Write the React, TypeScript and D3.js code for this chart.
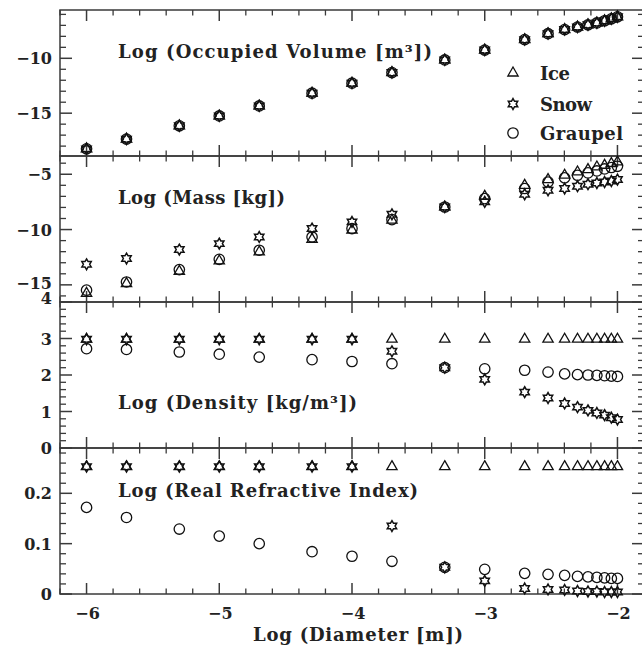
import React from 'react';
import * as d3 from 'd3';

// log10 of particle diameter [m]
const logDiameter = [-6, -5.699, -5.301, -5, -4.699, -4.301, -4, -3.699, -3.301, -3, -2.699, -2.523, -2.398, -2.301, -2.222, -2.155, -2.097, -2.046, -2];

const volumeIce = [-18.25, -17.36, -16.15, -15.25, -14.34, -13.18, -12.27, -11.3, -10.15, -9.25, -8.3, -7.76, -7.38, -7.15, -6.95, -6.78, -6.58, -6.4, -6.22];
const volumeSnow = [-18.25, -17.36, -16.15, -15.25, -14.34, -13.18, -12.27, -11.3, -10.15, -9.25, -8.3, -7.76, -7.38, -7.15, -6.95, -6.78, -6.58, -6.4, -6.22];
const volumeGraupel = [-18.25, -17.36, -16.15, -15.25, -14.34, -13.18, -12.27, -11.3, -10.15, -9.25, -8.3, -7.76, -7.38, -7.15, -6.95, -6.78, -6.58, -6.4, -6.22];

const massIce = [-15.76, -14.88, -13.77, -12.84, -12.02, -10.88, -10.06, -9.15, -7.96, -6.99, -6.0, -5.48, -5.09, -4.79, -4.58, -4.34, -4.19, -4.03, -3.89];
const massSnow = [-13.14, -12.62, -11.81, -11.27, -10.67, -9.91, -9.31, -8.62, -7.96, -7.5, -6.81, -6.45, -6.29, -6.08, -5.9, -5.79, -5.7, -5.61, -5.48];
const massGraupel = [-15.48, -14.74, -13.62, -12.69, -11.87, -10.67, -9.91, -9.1, -7.96, -7.2, -6.29, -5.7, -5.33, -5.09, -4.88, -4.7, -4.52, -4.39, -4.28];

const densityIce = [2.98, 2.98, 2.98, 2.98, 2.98, 2.98, 2.98, 2.98, 2.98, 2.98, 2.98, 2.98, 2.98, 2.98, 2.98, 2.98, 2.98, 2.98, 2.98];
const densitySnow = [2.98, 2.98, 2.98, 2.98, 2.98, 2.98, 2.98, 2.65, 2.2, 1.88, 1.53, 1.37, 1.22, 1.12, 1.03, 0.96, 0.9, 0.83, 0.78];
const densityGraupel = [2.72, 2.7, 2.63, 2.57, 2.49, 2.42, 2.37, 2.31, 2.2, 2.17, 2.13, 2.08, 2.03, 2.01, 2.0, 1.99, 1.98, 1.97, 1.96];

const refractiveIce = [0.253, 0.253, 0.253, 0.253, 0.253, 0.253, 0.253, 0.253, 0.253, 0.253, 0.253, 0.253, 0.253, 0.253, 0.253, 0.253, 0.253, 0.253, 0.253];
const refractiveSnow = [0.253, 0.253, 0.253, 0.253, 0.253, 0.253, 0.253, 0.135, 0.053, 0.026, 0.011, 0.009, 0.008, 0.006, 0.005, 0.005, 0.004, 0.004, 0.004];
const refractiveGraupel = [0.172, 0.152, 0.129, 0.115, 0.1, 0.084, 0.075, 0.065, 0.053, 0.049, 0.041, 0.039, 0.037, 0.035, 0.034, 0.033, 0.032, 0.031, 0.031];

const xMajorTicks = [-6, -5, -4, -3, -2];
const legendLabels = ['Ice', 'Snow', 'Graupel'];

const panelTitles = ['Log (Occupied Volume [m\u00B3])', 'Log (Mass [kg])', 'Log (Density [kg/m\u00B3])', 'Log (Real Refractive Index)'];
const panelYMajor = [[-15, -10], [-15, -10, -5], [0, 1, 2, 3, 4], [0, 0.1, 0.2]];
const panelYLabels = [['\u221215', '\u221210'], ['\u221215', '\u221210', '\u22125'], ['0', '1', '2', '3', '4'], ['0', '0.1', '0.2']];

const W = 642;
const H = 649;
const L = 60;
const R = 644;
const PT = [10, 156, 302, 448];
const PH = 146;
const FONT = "'DejaVu Serif', serif";
const AX = '#3a3a3a';

const hexagram = (cx: number, cy: number, ro: number) => {
  const ri = ro / Math.sqrt(3);
  const pts: string[] = [];
  for (let k = 0; k < 12; k++) {
    const a = (-90 + k * 30) * Math.PI / 180;
    const r = k % 2 === 0 ? ro : ri;
    pts.push(`${(cx + r * Math.cos(a)).toFixed(2)},${(cy + r * Math.sin(a)).toFixed(2)}`);
  }
  return 'M' + pts.join('L') + 'Z';
};
const triPath = d3.symbol().type(d3.symbolTriangle).size(46)();

const Marker = ({ kind, x, y }: { kind: number; x: number; y: number }) => {
  if (kind === 0) return <path d={triPath as string} transform={`translate(${x},${y})`} fill="none" stroke="#111" strokeWidth={1.3} />;
  if (kind === 1) return <path d={hexagram(x, y, 5.4)} fill="none" stroke="#111" strokeWidth={1.5} />;
  return <circle cx={x} cy={y} r={5.2} fill="none" stroke="#111" strokeWidth={1.3} />;
};

export default function App() {
  const x = d3.scaleLinear().domain([-6.2, -1.8]).range([L, R]);
  const panels = [
    { title: panelTitles[0], titleW: 314, titleY: 58, domain: [-18.9, -5.6], minor: 1, series: [volumeIce, volumeSnow, volumeGraupel] },
    { title: panelTitles[1], titleW: 167, titleY: 204, domain: [-16.55, -3.35], minor: 1, series: [massIce, massSnow, massGraupel] },
    { title: panelTitles[2], titleW: 239, titleY: 409, domain: [0, 4], minor: 0.2, series: [densityIce, densitySnow, densityGraupel] },
    { title: panelTitles[3], titleW: 300, titleY: 496.5, domain: [0, 0.29], minor: 0.02, series: [refractiveIce, refractiveSnow, refractiveGraupel] },
  ];
  const xMinor = d3.range(-6.2, -1.79, 0.2).map(v => Math.round(v * 10) / 10).filter(v => !xMajorTicks.includes(v));

  return (
    <svg width={W} height={H} style={{ position: 'absolute', left: 0, top: 0, background: '#fff' }}>
      {panels.map((p, i) => {
        const top = PT[i];
        const bot = top + PH;
        const y = d3.scaleLinear().domain(p.domain).range([bot, top]);
        const start = Math.ceil(p.domain[0] / p.minor - 1e-6);
        const end = Math.floor(p.domain[1] / p.minor + 1e-6);
        const minorTicks = d3.range(start, end + 1).map(k => k * p.minor).filter(v => !panelYMajor[i].some(m => Math.abs(m - v) < 1e-6));
        return (
          <g key={i}>
            <rect x={L} y={top} width={R - L} height={PH} fill="none" stroke={AX} strokeWidth={1.5} />
            {xMajorTicks.map(t => (
              <g key={'xm' + t}>
                <line x1={x(t)} x2={x(t)} y1={top} y2={top + 11} stroke={AX} strokeWidth={1.5} />
                <line x1={x(t)} x2={x(t)} y1={bot} y2={bot - 11} stroke={AX} strokeWidth={1.5} />
              </g>
            ))}
            {xMinor.map(t => (
              <g key={'xn' + t}>
                <line x1={x(t)} x2={x(t)} y1={top} y2={top + 5.5} stroke={AX} strokeWidth={1.3} />
                <line x1={x(t)} x2={x(t)} y1={bot} y2={bot - 5.5} stroke={AX} strokeWidth={1.3} />
              </g>
            ))}
            {panelYMajor[i].map((t, j) => {
              const isTop = Math.abs(t - p.domain[1]) < 1e-6;
              const isLowMass = i === 1 && t === -15;
              return (
                <g key={'ym' + t}>
                  <line x1={L} x2={L + 12} y1={y(t)} y2={y(t)} stroke={AX} strokeWidth={1.5} />
                  <line x1={R} x2={R - 12} y1={y(t)} y2={y(t)} stroke={AX} strokeWidth={1.5} />
                  <text x={52} y={y(t) + 6 - (isTop ? 4 : 0) - (isLowMass ? 2 : 0)} textAnchor="end" fontFamily={FONT} fontWeight="bold" fontSize={16} fill="#222">{panelYLabels[i][j]}</text>
                </g>
              );
            })}
            {minorTicks.map(t => (
              <g key={'yn' + t}>
                <line x1={L} x2={L + 6} y1={y(t)} y2={y(t)} stroke={AX} strokeWidth={1.3} />
                <line x1={R} x2={R - 6} y1={y(t)} y2={y(t)} stroke={AX} strokeWidth={1.3} />
              </g>
            ))}
            <text x={118} y={p.titleY} fontFamily={FONT} fontWeight="bold" fontSize={18} fill="#222" textLength={p.titleW}>{p.title}</text>
            {[2, 1, 0].map(s => (
              <g key={'s' + s}>
                {p.series[s].map((v, k) => <Marker key={k} kind={s} x={x(logDiameter[k])} y={y(v)} />)}
              </g>
            ))}
          </g>
        );
      })}
      {legendLabels.map((lab, i) => {
        const cy = [73, 104, 133][i];
        return (
          <g key={lab}>
            <Marker kind={i} x={513} y={cy} />
            <text x={540} y={cy + 7} fontFamily={FONT} fontWeight="bold" fontSize={18} fill="#222" textLength={[30, 52, 83][i]}>{lab}</text>
          </g>
        );
      })}
      {xMajorTicks.map(t => (
        <text key={'xl' + t} x={x(t) + 1} y={619} textAnchor="middle" fontFamily={FONT} fontWeight="bold" fontSize={16} fill="#222">{'\u2212' + Math.abs(t)}</text>
      ))}
      <text x={253} y={640.5} fontFamily={FONT} fontWeight="bold" fontSize={18} fill="#222" textLength={210}>Log (Diameter [m])</text>
    </svg>
  );
}
